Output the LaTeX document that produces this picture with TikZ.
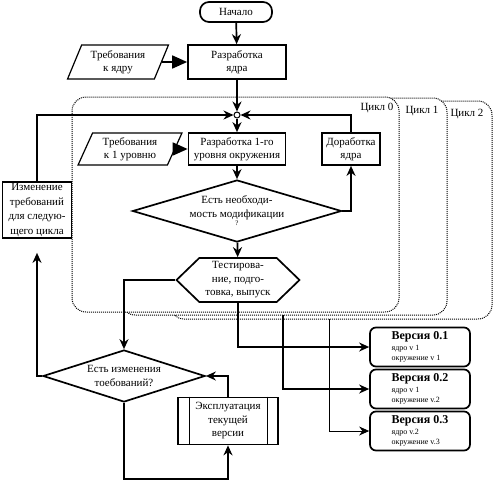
\documentclass[tikz,border=0pt]{standalone}
\usepackage{fontspec}
\setmainfont{Liberation Serif}
\usetikzlibrary{arrows.meta,calc,shapes.geometric,shapes.symbols}
\tikzset{
    flowarrow/.style={-{Stealth[length=10pt,width=9pt]},line width=1.7pt},
    bigarrow/.style={-{Triangle[length=15pt,width=13pt]},line width=1.7pt},
    thinarrow/.style={-{Stealth[length=10pt,width=9pt]},line width=0.9pt},
    procbox/.style={draw,line width=1.7pt,rectangle,inner sep=1pt,align=center,fill=white},
    termbox/.style={procbox,rounded corners=9pt},
    databox/.style={draw,line width=1.2pt,trapezium,trapezium left angle=66,trapezium right angle=114,
        trapezium stretches=true,inner sep=0pt,align=center,fill=white},
    decision/.style={draw,line width=1.7pt,diamond,inner sep=0pt,align=center,fill=white},
    prepbox/.style={draw,line width=1.7pt,signal,signal to=east and west,signal pointer angle=88,
        inner sep=0pt,align=center,fill=white},
    verbox/.style={draw,line width=1.7pt,rounded corners=6pt,align=left,inner sep=0pt,fill=white},
    cycleregion/.style={densely dotted,line width=1pt,rounded corners=14pt,fill=white},
    cyclelabel/.style={inner sep=0pt},
    junction/.style={circle,draw,line width=1pt,fill=white,inner sep=0pt,minimum size=6pt},
    vertitle/.style={font=\fontsize{12}{13}\selectfont\bfseries},
    versmall/.style={font=\fontsize{8}{9}\selectfont}
}

\begin{document}
\begin{tikzpicture}[x=1pt,y=-1pt,>=Stealth,font=\fontsize{11}{13.5}\selectfont]
    \useasboundingbox (0,0) rectangle (498,485);
    % Cycles
    \draw[cycleregion] (170,101) rectangle (492,319);
    \draw[cycleregion] (121,98) rectangle (447,315);
    \draw[cycleregion] (72,97) rectangle (399,312);
    \node[cyclelabel] (cyc0) at (377,108) {Цикл 0};
    \node[cyclelabel] (cyc1) at (422,111) {Цикл 1};
    \node[cyclelabel] (cyc2) at (467,114) {Цикл 2};
    % Kernel
    \node[termbox,minimum width=72pt,minimum height=20pt] (start) at (236,12) {Начало};
    \node[procbox,minimum width=98pt,minimum height=34pt] (kernel) at (237,62) {Разработка\\ядра};
    \node[databox,minimum width=101pt,minimum height=34pt] (reqk) at (118,62) {Требования\\к ядру};
    \node[junction] (junc) at (237,115) {};
    % First level
    \node[procbox,minimum width=97pt,minimum height=32pt] (env) at (237,149) {Разработка 1-го\\уровня окружения};
    \node[databox,minimum width=104pt,minimum height=32pt] (req1) at (130,149) {Требования\\к 1 уровню};
    \node[procbox,minimum width=58pt,minimum height=32pt] (fix) at (351,149) {Доработка\\ядра};
    \node[decision,aspect=3.37,minimum width=209pt,minimum height=62pt] (mod) at (237,211)
        {Есть необходи-\\мость модификации\\[-5pt]{\scriptsize ?}};
    \node[prepbox,minimum width=123pt,minimum height=44pt] (test) at (238,280) {Тестирова-\\ние, подго-\\товка, выпуск};
    % Next cycle
    \node[procbox,minimum width=69pt,minimum height=56pt,font=\fontsize{11}{14.5}\selectfont] (chg) at (37,210)
        {Изменение\\требований\\для следую-\\щего цикла};
    \node[decision,aspect=3.1,minimum width=162pt,minimum height=52pt] (chgq) at (124,376) {Есть изменения\\тоебований?};
    \node[procbox,minimum width=100pt,minimum height=47pt] (expl) at (228,421) {Эксплуатация\\текущей\\версии};
    \draw[line width=1.2pt] ([xshift=12pt]expl.north west) -- ([xshift=12pt]expl.south west);
    \draw[line width=1.2pt] ([xshift=-11pt]expl.north east) -- ([xshift=-11pt]expl.south east);
    % Versions
    \node[verbox,minimum width=100pt,minimum height=39pt] (v1) at (420,347)
        {{\fontsize{12}{13}\selectfont\bfseries Версия 0.1}\\[-3pt]{\fontsize{8}{9}\selectfont ядро v 1}\\[-3pt]{\fontsize{8}{9}\selectfont окружение v 1}};
    \node[verbox,minimum width=100pt,minimum height=39pt] (v2) at (420,389)
        {{\fontsize{12}{13}\selectfont\bfseries Версия 0.2}\\[-3pt]{\fontsize{8}{9}\selectfont ядро v 1}\\[-3pt]{\fontsize{8}{9}\selectfont окружение v.2}};
    \node[verbox,minimum width=100pt,minimum height=39pt] (v3) at (420,431)
        {{\fontsize{12}{13}\selectfont\bfseries Версия 0.3}\\[-3pt]{\fontsize{8}{9}\selectfont ядро v.2}\\[-3pt]{\fontsize{8}{9}\selectfont окружение v.3}};
    \coordinate (rel1) at (283,315);
    \coordinate (rel2) at (329,319);
    % Connectors
    \draw[flowarrow] (start) -- (kernel);
    \draw[bigarrow] (reqk) -- (kernel);
    \draw[flowarrow] (kernel) -- (junc);
    \draw[flowarrow] (chg.north) |- (junc);
    \draw[flowarrow] (fix.north) |- (junc);
    \draw[flowarrow] (junc) -- (env);
    \draw[bigarrow] (req1) -- (env);
    \draw[flowarrow] (env) -- (mod);
    \draw[flowarrow] (mod.east) -| (fix.south);
    \draw[flowarrow] (mod) -- (test);
    \draw[flowarrow] (test.west) -| (chgq.north);
    \draw[flowarrow,shorten >=14pt] (chgq.west) -| (chg.south);
    \draw[flowarrow] (chgq.south) -- ++(0,76) -| (expl.south);
    \draw[flowarrow] (expl.north) |- (chgq.east);
    \draw[flowarrow] (test.south) |- (v1.west);
    \draw[flowarrow] (rel1) |- (v2.west);
    \draw[thinarrow] (rel2) |- (v3.west);
\end{tikzpicture}
\end{document}
